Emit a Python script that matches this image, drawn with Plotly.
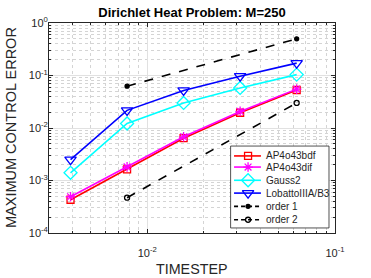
import plotly.graph_objects as go

# ---------------- data ----------------
timestep = [0.00390625, 0.0078125, 0.015625, 0.03125, 0.0625]
err_ap4o43bdf = [0.00043, 0.00163, 0.0064, 0.0195, 0.053]
err_ap4o43dif = [0.00049, 0.00182, 0.0068, 0.0207, 0.055]
err_gauss2 = [0.00140, 0.0122, 0.030, 0.058, 0.104]
err_lobatto = [0.0025, 0.0217, 0.052, 0.097, 0.172]
order_x = [0.0078125, 0.0625]
order1_y = [0.0625, 0.5]
order2_y = [0.00047, 0.03]

series_names = ["AP4o43bdf", "AP4o43dif", "Gauss2", "LobattoIIIA/B3", "order 1", "order 2"]
x_tick_vals = [0.01, 0.1]
x_tick_text = ["10<sup>-2</sup>", "10<sup>-1</sup>"]
y_tick_vals = [1e-4, 1e-3, 1e-2, 1e-1, 1]
y_tick_text = ["10<sup>-4</sup>", "10<sup>-3</sup>", "10<sup>-2</sup>", "10<sup>-1</sup>", "10<sup>0</sup>"]

FONT = "Liberation Sans, Arial, Helvetica, sans-serif"
AX = "#262626"

styles = [
    dict(color="#ff0000", symbol="square-open", size=7, dash="solid", width=1.6),
    dict(color="#ff00ff", symbol="asterisk-open", size=8, dash="solid", width=1.6),
    dict(color="#00ffff", symbol="diamond-open", size=10, dash="solid", width=1.6),
    dict(color="#0000ff", symbol="triangle-down-open", size=10, dash="solid", width=1.6),
    dict(color="#000000", symbol="circle", size=4, dash="dash", width=1.6),
    dict(color="#000000", symbol="circle-open", size=5, dash="dash", width=1.6),
]

xs = [timestep, timestep, timestep, timestep, order_x, order_x]
ys = [err_ap4o43bdf, err_ap4o43dif, err_gauss2, err_lobatto, order1_y, order2_y]

fig = go.Figure()
for name, x, y, st in zip(series_names, xs, ys, styles):
    fig.add_trace(go.Scatter(
        x=x, y=y, name=name, mode="lines+markers",
        line=dict(color=st["color"], width=st["width"], dash=st["dash"]),
        marker=dict(symbol=st["symbol"], size=st["size"], color=st["color"],
                    line=dict(color=st["color"], width=1.3)),
        showlegend=False, hoverinfo="skip"))

# ---------------- custom MATLAB-like legend (overlay axes, 0..1) ----------------
bx0, bx1, by0, by1 = 0.635, 0.979, 0.024, 0.414
fig.add_trace(go.Scatter(
    x=[bx0, bx1, bx1, bx0, bx0], y=[by0, by0, by1, by1, by0],
    xaxis="x2", yaxis="y2", mode="lines", fill="toself", fillcolor="white",
    line=dict(color=AX, width=0.8), showlegend=False, hoverinfo="skip"))
rows = [0.367, 0.314, 0.251, 0.190, 0.127, 0.063]
lx0, lx1, lxm, tx = 0.647, 0.741, 0.696, 0.750
for name, ry, st in zip(series_names, rows, styles):
    fig.add_trace(go.Scatter(
        x=[lx0, lx1], y=[ry, ry], xaxis="x2", yaxis="y2", mode="lines",
        line=dict(color=st["color"], width=st["width"], dash="solid" if st["dash"] == "solid" else "4px,3px"),
        showlegend=False, hoverinfo="skip"))
    fig.add_trace(go.Scatter(
        x=[lxm], y=[ry], xaxis="x2", yaxis="y2", mode="markers",
        marker=dict(symbol=st["symbol"], size=st["size"], color=st["color"],
                    line=dict(color=st["color"], width=1.3)),
        showlegend=False, hoverinfo="skip"))
    fig.add_annotation(x=tx, y=ry, xref="x2", yref="y2", text=name, showarrow=False,
                       xanchor="left", yanchor="middle",
                       font=dict(family=FONT, size=10, color=AX))

# minor ticks
x_minor = [k * 10 ** e for e in (-3, -2) for k in range(2, 10)]
y_minor = [k * 10 ** e for e in (-4, -3, -2, -1) for k in range(2, 10)]

common = dict(showline=True, linecolor=AX, linewidth=0.8, mirror="ticks",
              ticks="inside", ticklen=4, tickcolor=AX, tickwidth=0.8,
              showgrid=True, gridcolor="#e1e1e1", gridwidth=0.8,
              zeroline=False, tickfont=dict(family=FONT, size=11, color=AX))

fig.update_layout(
    width=371, height=278,
    margin=dict(l=49, r=36, t=23, b=45),
    paper_bgcolor="white", plot_bgcolor="white",
    font=dict(family=FONT, color=AX),
    title=dict(text="<b>Dirichlet Heat Problem: M=250</b>", x=0.5175, xanchor="center",
               y=1 - 12 / 278, yanchor="middle", font=dict(family=FONT, size=13, color="black")),
    xaxis=dict(type="log", range=[-2.5229, -1.0], tickmode="array",
               tickvals=x_tick_vals, ticktext=x_tick_text, ticklabelstandoff=10,
               minor=dict(tickmode="array", tickvals=x_minor, ticks="inside", ticklen=2,
                          tickcolor=AX, showgrid=True, gridcolor="#d4d4d4", griddash="dot", gridwidth=0.8),
               **common),
    yaxis=dict(type="log", range=[-4, 0], tickmode="array",
               tickvals=y_tick_vals, ticktext=y_tick_text, ticklabelstandoff=-2,
               minor=dict(tickmode="array", tickvals=y_minor, ticks="inside", ticklen=2,
                          tickcolor=AX, showgrid=True, gridcolor="#d4d4d4", griddash="dot", gridwidth=0.8),
               **common),
    xaxis2=dict(overlaying="x", anchor="y2", range=[0, 1], visible=False, fixedrange=True),
    yaxis2=dict(overlaying="y", anchor="x2", range=[0, 1], visible=False, fixedrange=True),
    showlegend=False,
)

# axis titles
fig.add_annotation(text="TIMESTEP", x=0.5, xref="paper", y=-(269 - 233) / 210, yref="paper",
                   showarrow=False, xanchor="center", yanchor="middle",
                   font=dict(family=FONT, size=14.3, color=AX))
fig.add_annotation(text="MAXIMUM CONTROL ERROR", x=-(49 - 11) / 286, xref="paper", y=0.5, yref="paper",
                   showarrow=False, textangle=-90, xanchor="center", yanchor="middle",
                   font=dict(family=FONT, size=14.5, color=AX))

fig.write_html("out.html", config={"displayModeBar": False},
               post_script="document.body.style.margin='0px';document.body.style.overflow='hidden';")
